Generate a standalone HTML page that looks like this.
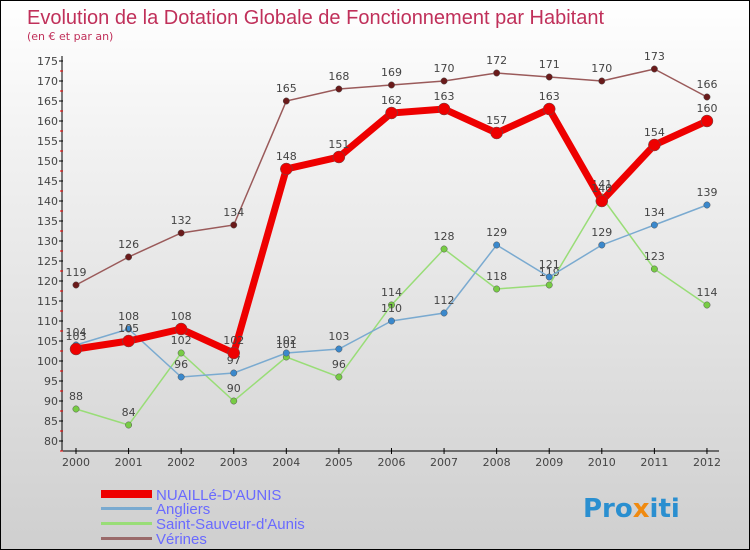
<!DOCTYPE html>
<html><head><meta charset="utf-8"><style>
body{margin:0}
#c{width:748px;height:548px;border:1px solid #000;background:linear-gradient(#fff,#f0f0f0 30%,#cfcfcf);position:relative;font-family:"DejaVu Sans","Liberation Sans",sans-serif;overflow:hidden}
</style></head><body>
<div id="c">
<svg id="s" width="748" height="548" xmlns="http://www.w3.org/2000/svg">
<text x="26" y="23" font-size="20" fill="#c0305a" font-family="Liberation Sans, sans-serif">Evolution de la Dotation Globale de Fonctionnement par Habitant</text>
<text x="26" y="39" font-size="11" fill="#c0305a">(en € et par an)</text>
<g id="ax"></g><g id="ser"></g>
<g font-family="Liberation Sans, sans-serif">
<rect x="100" y="489" width="51" height="8" fill="#ee0000"/>
<text x="155" y="499" font-size="15" fill="#6a6aff">NUAILLé-D'AUNIS</text>
<rect x="100" y="506" width="51" height="3" fill="#7aaad0"/>
<text x="155" y="513" font-size="15" fill="#6a6aff">Angliers</text>
<rect x="100" y="521" width="51" height="3" fill="#99dd77"/>
<text x="155" y="528" font-size="15" fill="#6a6aff">Saint-Sauveur-d'Aunis</text>
<rect x="100" y="536" width="51" height="3" fill="#9a6a6a"/>
<text x="155" y="543" font-size="15" fill="#6a6aff">Vérines</text>
</g>
<text x="582" y="516" font-size="26" font-weight="bold"><tspan fill="#2a8fd0">Pro</tspan><tspan fill="#f08a10">x</tspan><tspan fill="#2a8fd0">iti</tspan></text>
</svg></div>
<script>
const years=[2000,2001,2002,2003,2004,2005,2006,2007,2008,2009,2010,2011,2012];
const nuaille=[103,105,108,102,148,151,162,163,157,163,140,154,160];
const angliers=[104,108,96,97,102,103,110,112,129,121,129,134,139];
const saintSauveur=[88,84,102,90,101,96,114,128,118,119,141,123,114];
const verines=[119,126,132,134,165,168,169,170,172,171,170,173,166];
const yTicks=[80,85,90,95,100,105,110,115,120,125,130,135,140,145,150,155,160,165,170,175];
const NS="http://www.w3.org/2000/svg";
const X=i=>75+i*52.58, Y=v=>440-(v-80)*4;
function mk(t,a,p){const e=document.createElementNS(NS,t);for(const k in a)e.setAttribute(k,a[k]);p.appendChild(e);return e;}
const ax=document.getElementById('ax');
let l=mk('line',{x1:61,y1:55,x2:61,y2:450,stroke:'#000'},ax);


l=mk('line',{x1:61,y1:450,x2:718,y2:450,stroke:'#000'},ax);


yTicks.forEach(v=>{
 const t=mk('line',{x1:58,y1:Y(v),x2:62,y2:Y(v),stroke:'#000'},ax);
 
 
 const r=mk('line',{x1:59,y1:Y(v)+10,x2:62,y2:Y(v)+10,stroke:'#e00'},ax);
 
 
 const tx=mk('text',{x:57,y:Y(v)+4,'font-size':11,fill:'#444','text-anchor':'end'},ax);tx.textContent=v;
 
 
});
years.forEach((y,i)=>{
 const t=mk('line',{x1:X(i),y1:447,x2:X(i),y2:453,stroke:'#000'},ax);
 
 
 const tx=mk('text',{x:X(i),y:465,'font-size':11,fill:'#444','text-anchor':'middle'},ax);tx.textContent=y;
 
 
});
const ser=document.getElementById('ser');
function series(d,name,col,w,dot,r){
 const g=mk('g',{},ser);
 
 
 const p=mk('polyline',{points:d.map((v,i)=>X(i)+','+Y(v)).join(' '),fill:'none',stroke:col,'stroke-width':w},g);
 
 
 d.forEach((v,i)=>{
  const c=mk('circle',{cx:X(i),cy:Y(v),r:r,fill:dot,stroke:'#555','stroke-width':0.5},g);
  
  
  const t=mk('text',{x:X(i),y:Y(v)-9,'font-size':11,fill:'#444','text-anchor':'middle'},g);t.textContent=v;
  
  
 });
}
series(verines,'verines','#9a5a5a',1.5,'#6a1a1a',3.2);
series(saintSauveur,'saint-sauveur','#99dd77',1.5,'#77cc44',3.2);
series(angliers,'angliers','#7aaad0',1.5,'#3a88cc',3.2);
series(nuaille,'nuaille','#ee0000',7,'#ee0000',6);
</script>
</body></html>
